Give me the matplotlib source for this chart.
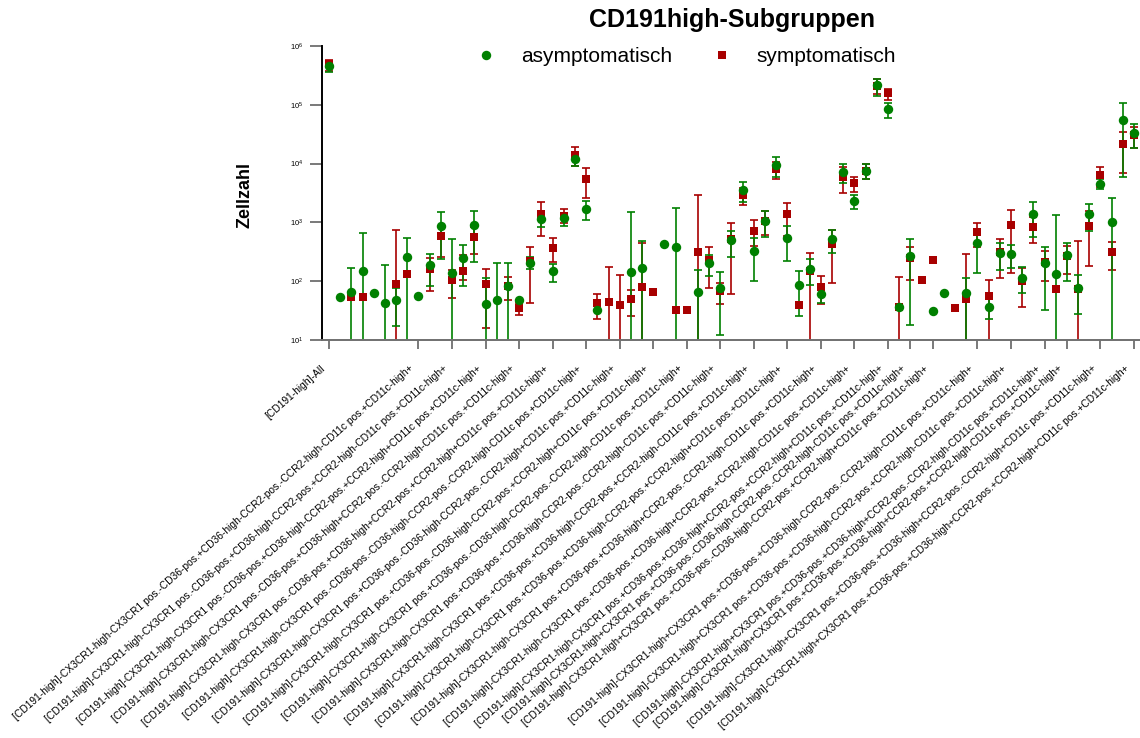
import numpy as np
import matplotlib
matplotlib.use("Agg")
import matplotlib.pyplot as plt
from matplotlib.lines import Line2D
from matplotlib.ticker import FixedLocator, NullLocator, FuncFormatter
from matplotlib.transforms import ScaledTranslation

plt.rcParams['font.family'] = ['Liberation Sans', 'DejaVu Sans']
plt.rcParams['mathtext.fontset'] = 'custom'
plt.rcParams['mathtext.rm'] = 'Liberation Sans'
plt.rcParams['mathtext.default'] = 'regular'

nan = np.nan

# Mean cell counts with lower / upper whisker ends (mean -/+ SD);
# a lower end of 1 means the whisker runs below the axis floor (10^1).
asym_mean = [455000, 54, 65, 150, 62, 43, 47, 258, 56, 187,
             870, 139, 245, 895, 41, 47, 83, 48, 206, 1150,
             150, 1210, 12000, 1660, 32.4, nan, nan, 143, 167, nan,
             425, 387, nan, 66, 200, 76, 493, 3540, 325, 1070,
             9370, 550, 87, 161, 61, 520, 7230, 2330, 7540, 214000,
             84000, 36, 268, nan, 31.5, 63, nan, 63, 445, 37,
             297, 289, 114, 1400, 206, 131, 275, 76, 1400, 4540,
             1030, 56000, 33200]
asym_low = [365000, nan, 1, 1, nan, 1, 17, 1, nan, 83,
            240, 1, 83, 210, 1, 1, 1, nan, 160, 845,
            98, 868, 9100, 1090, nan, nan, nan, 1, 1, nan,
            nan, 1, nan, 1, 122, 12.2, 254, 2240, 100, 570,
            6000, 220, 25.6, 86, 42, 303, 4600, 1700, 5380, 142000,
            60000, nan, 17.8, nan, nan, nan, nan, 1, 136, 22.5,
            153, 167, 62, 570, 32, 1, 102, 28, 710, 3630,
            1, 5800, 18300]
asym_high = [560000, nan, 166, 660, nan, 188, 76, 550, nan, 293,
             1520, 520, 410, 1580, 115, 200, 200, nan, 260, 1420,
             195, 1420, 14500, 2290, nan, nan, nan, 1520, 485, nan,
             nan, 1780, nan, 155, 278, 143, 720, 4900, 550, 1580,
             12900, 870, 149, 238, 82, 740, 9950, 2940, 9800, 270000,
             108000, nan, 525, nan, nan, nan, nan, 114, 750, 50,
             440, 405, 172, 2190, 376, 1320, 445, 127, 2040, 5500,
             2640, 108000, 48000]

sym_mean = [490000, nan, 54, 54, nan, nan, 90, 132, nan, 159,
            576, 104, 150, 563, 90, nan, 83, 34.6, 220, 1370,
            370, 1290, 13800, 5480, 42, 45, 39, 49, 79, 65,
            nan, 32.4, 32.4, 316, 229, 68, 520, 2880, 720, 1070,
            7950, 1370, 39, 149, 81, 424, 6000, 4600, 7600, 208000,
            156000, 36, 250, 104, 229, nan, 35, 50, 685, 56.6,
            309, 890, 102, 834, 214, 73, 272, 74, 875, 6300,
            309, 21300, 30500]
sym_low = [380000, nan, nan, nan, nan, nan, 1, nan, nan, 68,
           260, 51, 104, 287, 16, nan, 47, 27, 43, 585,
           214, 960, 9000, 2570, 23, 1, 1, 26, 1, nan,
           nan, nan, nan, 1, 76, 41.6, 60, 1960, 390, 600,
           5500, 590, nan, 1, 41, 94, 3100, 3320, 5400, 150000,
           120000, 1, 104, nan, nan, nan, nan, 1, 376, 1,
           112, 136, 37, 440, 100, nan, 130, 1, 183, 4000,
           158, 6900, 18500]
sym_high = [577000, nan, nan, nan, nan, nan, 740, nan, nan, 244,
            860, 157, 278, 840, 161, nan, 119, 42, 387, 2190,
            535, 1690, 19000, 8300, 61, 174, 127, 70, 450, nan,
            nan, nan, nan, 2900, 376, 94, 990, 3800, 1090, 1550,
            10500, 2150, nan, 297, 121, 750, 8900, 6000, 9800, 275000,
            186000, 116, 385, nan, nan, nan, nan, 286, 990, 104,
            515, 1630, 170, 1230, 323, nan, 400, 487, 1560, 8800,
            457, 34600, 42000]

# Labelled subgroups (category index -> name)
label_index = [0, 8, 11, 14, 17, 20, 23, 26, 29, 32, 35, 38,
               41, 44, 47, 50, 52, 54, 58, 61, 64, 66, 69, 72]
label_text = [
    "[CD191-high]-All",
    "[CD191-high]-CX3CR1-high-CX3CR1 pos.-CD36-pos.+CD36-high-CCR2-pos.-CCR2-high-CD11c pos.+CD11c-high+",
    "[CD191-high]-CX3CR1-high-CX3CR1 pos.-CD36-pos.+CD36-high-CCR2-pos.+CCR2-high-CD11c pos.+CD11c-high+",
    "[CD191-high]-CX3CR1-high-CX3CR1 pos.-CD36-pos.+CD36-high-CCR2-pos.+CCR2-high+CD11c pos.+CD11c-high+",
    "[CD191-high]-CX3CR1-high-CX3CR1 pos.-CD36-pos.+CD36-high+CCR2-pos.-CCR2-high-CD11c pos.+CD11c-high+",
    "[CD191-high]-CX3CR1-high-CX3CR1 pos.-CD36-pos.+CD36-high+CCR2-pos.+CCR2-high+CD11c pos.+CD11c-high+",
    "[CD191-high]-CX3CR1-high-CX3CR1 pos.-CD36-pos.-CD36-high-CCR2-pos.-CCR2-high-CD11c pos.+CD11c-high+",
    "[CD191-high]-CX3CR1-high-CX3CR1 pos.+CD36-pos.-CD36-high-CCR2-pos.-CCR2-high+CD11c pos.+CD11c-high+",
    "[CD191-high]-CX3CR1-high-CX3CR1 pos.+CD36-pos.-CD36-high-CCR2-pos.+CCR2-high+CD11c pos.+CD11c-high+",
    "[CD191-high]-CX3CR1-high-CX3CR1 pos.+CD36-pos.-CD36-high-CCR2-pos.-CCR2-high-CD11c pos.+CD11c-high+",
    "[CD191-high]-CX3CR1-high-CX3CR1 pos.+CD36-pos.+CD36-high-CCR2-pos.-CCR2-high-CD11c pos.+CD11c-high+",
    "[CD191-high]-CX3CR1-high-CX3CR1 pos.+CD36-pos.+CD36-high-CCR2-pos.+CCR2-high-CD11c pos.+CD11c-high+",
    "[CD191-high]-CX3CR1-high-CX3CR1 pos.+CD36-pos.+CD36-high-CCR2-pos.+CCR2-high+CD11c pos.+CD11c-high+",
    "[CD191-high]-CX3CR1-high-CX3CR1 pos.+CD36-pos.+CD36-high+CCR2-pos.-CCR2-high-CD11c pos.+CD11c-high+",
    "[CD191-high]-CX3CR1-high-CX3CR1 pos.+CD36-pos.+CD36-high+CCR2-pos.+CCR2-high-CD11c pos.+CD11c-high+",
    "[CD191-high]-CX3CR1-high-CX3CR1 pos.+CD36-pos.+CD36-high+CCR2-pos.+CCR2-high+CD11c pos.+CD11c-high+",
    "[CD191-high]-CX3CR1-high+CX3CR1 pos.+CD36-pos.-CD36-high-CCR2-pos.-CCR2-high-CD11c pos.+CD11c-high+",
    "[CD191-high]-CX3CR1-high+CX3CR1 pos.+CD36-pos.-CD36-high-CCR2-pos.+CCR2-high+CD11c pos.+CD11c-high+",
    "[CD191-high]-CX3CR1-high+CX3CR1 pos.+CD36-pos.+CD36-high-CCR2-pos.-CCR2-high-CD11c pos.+CD11c-high+",
    "[CD191-high]-CX3CR1-high+CX3CR1 pos.+CD36-pos.+CD36-high-CCR2-pos.+CCR2-high-CD11c pos.+CD11c-high+",
    "[CD191-high]-CX3CR1-high+CX3CR1 pos.+CD36-pos.+CD36-high+CCR2-pos.-CCR2-high-CD11c pos.+CD11c-high+",
    "[CD191-high]-CX3CR1-high+CX3CR1 pos.+CD36-pos.+CD36-high+CCR2-pos.+CCR2-high-CD11c pos.+CD11c-high+",
    "[CD191-high]-CX3CR1-high+CX3CR1 pos.+CD36-pos.+CD36-high+CCR2-pos.-CCR2-high+CD11c pos.+CD11c-high+",
    "[CD191-high]-CX3CR1-high+CX3CR1 pos.+CD36-pos.+CD36-high+CCR2-pos.+CCR2-high+CD11c pos.+CD11c-high+",
]

GREEN = '#008000'
RED = '#A80000'

fig = plt.figure(figsize=(11.4, 7.38), dpi=100)
ax = fig.add_axes([0.2822, 0.5393, 0.7178, 0.3984])

x = np.arange(len(asym_mean))


def draw_series(mean, low, high, color, marker, msize):
    mean = np.asarray(mean, float)
    low = np.asarray(low, float)
    high = np.asarray(high, float)
    has_bar = ~np.isnan(low)
    ax.errorbar(x[has_bar], mean[has_bar],
                yerr=[mean[has_bar] - low[has_bar], high[has_bar] - mean[has_bar]],
                fmt='none', ecolor=color, elinewidth=1.2, capsize=3.2,
                capthick=1.2, zorder=2)
    ax.plot(x, mean, linestyle='none', marker=marker, markersize=msize,
            color=color, markeredgewidth=0, zorder=3)


draw_series(sym_mean, sym_low, sym_high, RED, 's', 6.3)
draw_series(asym_mean, asym_low, asym_high, GREEN, 'o', 6.8)

ax.set_yscale('log')
ax.set_ylim(10, 1e6)
ax.set_xlim(-0.653, len(asym_mean) - 0.46)

ax.yaxis.set_major_locator(FixedLocator([1e1, 1e2, 1e3, 1e4, 1e5, 1e6]))
ax.yaxis.set_minor_locator(NullLocator())
ax.yaxis.set_major_formatter(FuncFormatter(
    lambda v, pos: r'$10^{%d}$' % int(round(np.log10(v)))))
ax.tick_params(axis='y', which='major', length=8.5, width=1.3,
               color='#6e6e6e', labelsize=5.5, pad=4.5)

ax.set_xticks(label_index)
ax.set_xticklabels(label_text, rotation=41.5, ha='right', va='center',
                   rotation_mode='anchor', fontsize=7.4)
ax.tick_params(axis='x', which='major', length=6.5, width=1.3,
               color='#6e6e6e', pad=13)
shift = ScaledTranslation(-0.06, 0, fig.dpi_scale_trans)
for lbl in ax.get_xticklabels():
    lbl.set_transform(lbl.get_transform() + shift)

for side in ('top', 'right'):
    ax.spines[side].set_visible(False)
ax.spines['left'].set_linewidth(1.4)
ax.spines['left'].set_color('black')
ax.spines['bottom'].set_linewidth(1.4)
ax.spines['bottom'].set_color('#707070')

fig.text(245.5 / 1140, 1 - 194.5 / 738, 'Zellzahl', rotation=90,
         ha='center', va='center', fontsize=13, fontweight='bold')
fig.text(732 / 1140, 1 - 20 / 738, 'CD191high-Subgruppen',
         ha='center', va='center', fontsize=18, fontweight='bold')

handles = [
    Line2D([], [], linestyle='none', marker='o', markersize=6.8,
           color=GREEN, markeredgewidth=0),
    Line2D([], [], linestyle='none', marker='s', markersize=6.3,
           color=RED, markeredgewidth=0),
]
fig.legend(handles, ['asymptomatisch', 'symptomatisch'], ncol=2,
           loc='center left', bbox_to_anchor=(475.3 / 1140, 1 - 57 / 738),
           frameon=False, fontsize=15, handlelength=1.0,
           handletextpad=1.18, columnspacing=1.9, borderpad=0,
           borderaxespad=0)

fig.savefig('out.png', dpi=100)
